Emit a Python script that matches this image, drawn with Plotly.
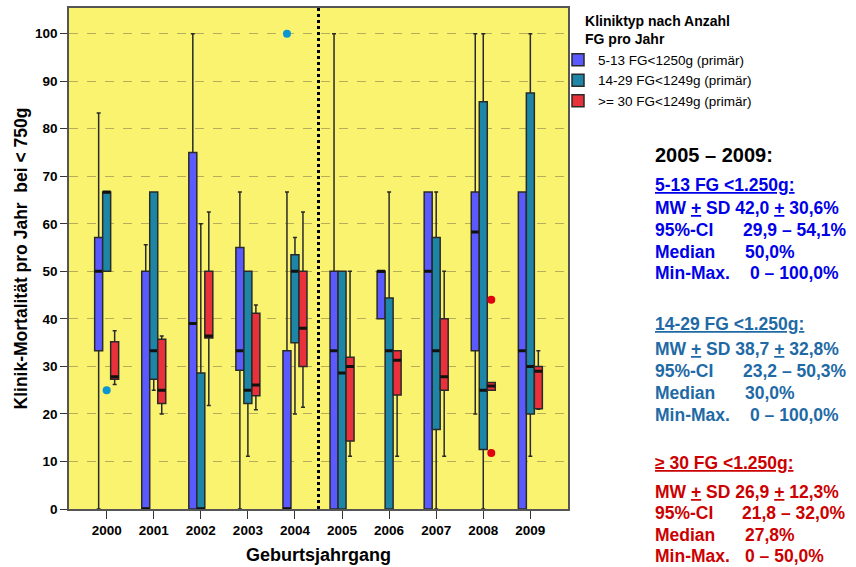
import plotly.graph_objects as go

# Geburtsjahrgänge (Kategorien der x-Achse)
years = ["2000", "2001", "2002", "2003", "2004", "2005", "2006", "2007", "2008", "2009"]

# Kliniktyp 5-13 FG<1250g: Boxplot-Kennwerte je Jahrgang (Mortalität in %)
small_lf = [0, 0, 0, 0, 0, 0, 40, 0, 20, 0]
small_q1 = [33.3, 0, 0, 29.2, 0, 0, 40, 0, 33.3, 0]
small_med = [50, 0, 39, 33.3, 0, 33.3, 50, 50, 58.3, 33.3]
small_q3 = [57.1, 50, 75, 55, 33.3, 50, 50, 66.7, 66.7, 66.7]
small_uf = [83.3, 55.6, 100, 66.7, 66.7, 100, 50, 66.7, 100, 66.7]
small_out_years = ["2004"]
small_out_vals = [100]

# Kliniktyp 14-29 FG<1249g
mid_lf = [50, 25, 0, 11.1, 20, 0, 0, 0, 0, 11.1]
mid_q1 = [50, 27.3, 0, 22.2, 35, 0, 0, 16.7, 12.5, 20]
mid_med = [66.7, 33.3, 0, 25, 50, 28.6, 33.3, 33.3, 25, 30]
mid_q3 = [66.7, 66.7, 28.6, 50, 53.5, 50, 44.4, 57.1, 85.7, 87.5]
mid_uf = [66.7, 66.7, 60, 50, 57.1, 50, 66.7, 66.7, 100, 100]
mid_out_years = ["2000"]
mid_out_vals = [25]

# Kliniktyp >= 30 FG<1249g
large_lf = [26.2, 20, 21.8, 20.9, 21.4, 11.1, 11.1, 11.1, 25, 21]
large_q1 = [27.3, 22.2, 36, 23.8, 30, 14.3, 24, 25, 25, 21.1]
large_med = [27.8, 25, 36.4, 26.1, 38, 30, 31.3, 27.8, 25.9, 29]
large_q3 = [35.2, 35.7, 50, 41.2, 50, 31.9, 33.3, 40, 26.6, 30]
large_uf = [37.5, 36.4, 62.5, 42.9, 62.5, 50, 33.3, 50, 26.6, 33.3]
large_out_years = ["2008", "2008"]
large_out_vals = [44, 11.8]

groups = [
    ("5-13 FG<1250g (primär)", "#5a5aff", "#0a96d0",
     small_lf, small_q1, small_med, small_q3, small_uf, small_out_years, small_out_vals),
    ("14-29 FG<1249g (primär)", "#1d86a6", "#0a96d0",
     mid_lf, mid_q1, mid_med, mid_q3, mid_uf, mid_out_years, mid_out_vals),
    (">= 30 FG<1249g (primär)", "#e8313a", "#e00010",
     large_lf, large_q1, large_med, large_q3, large_uf, large_out_years, large_out_vals),
]

FONT = "Arial, Liberation Sans, sans-serif"
OUTLINE = "#2a2a2a"

fig = go.Figure()
for i, (name, fill, dot, lf, q1, med, q3, uf, oy, ov) in enumerate(groups):
    grp = f"g{i}"
    fig.add_trace(go.Box(
        name=name, x=years,
        lowerfence=lf, q1=q1, median=med, q3=q3, upperfence=uf,
        offsetgroup=grp, fillcolor=fill,
        line=dict(color=OUTLINE, width=1.5), whiskerwidth=0.5,
        boxpoints=False, hoverinfo="skip",
    ))
    # thick median bar, drawn as a flat box on top of the main box
    fig.add_trace(go.Box(
        x=years, lowerfence=med, q1=med, median=med, q3=med, upperfence=med,
        offsetgroup=grp, fillcolor="rgba(0,0,0,0)",
        line=dict(color="#111111", width=3), whiskerwidth=0,
        boxpoints=False, showlegend=False, hoverinfo="skip",
    ))
    # outliers, placed at the centre of their group's box
    fig.add_trace(go.Box(
        x=oy, y=ov, offsetgroup=grp,
        fillcolor="rgba(0,0,0,0)", line=dict(width=0, color="rgba(0,0,0,0)"),
        boxpoints="all", pointpos=0, jitter=0,
        marker=dict(color=dot, size=8, line=dict(width=0)),
        showlegend=False, hoverinfo="skip",
    ))

# dotted divider between 2004 and 2005
fig.add_shape(type="line", xref="x", yref="paper", x0=4.5, x1=4.5, y0=0, y1=1,
              line=dict(color="black", width=3, dash="dot"))

# right-hand summary text (pixel positions converted to paper coordinates)
L, R, T, B = 69, 568, 8, 509.5


def px(xp):
    return (xp - L) / (R - L)


def py(yp):
    return (B - yp) / (B - T)


def ul(s):
    return f'<span style="text-decoration:underline">{s}</span>'


def note(text, xp, yp, color, size=17.5):
    fig.add_annotation(text=text, x=px(xp), y=py(yp), xref="paper", yref="paper",
                       xanchor="left", yanchor="middle", showarrow=False,
                       font=dict(family=FONT, size=size, color=color, weight="bold"))


note("2005 – 2009:", 653, 155, "black", size=20)

blocks = [
    ("#0000e8", "5-13 FG &lt;1.250g:", "42,0", "30,6%", "29,9 – 54,1%", "50,0%", "0 – 100,0%",
     [185, 208, 230, 252, 273], [741, 743, 748]),
    ("#1f6aa5", "14-29 FG &lt;1.250g:", "38,7", "32,8%", "23,2 – 50,3%", "30,0%", "0 – 100,0%",
     [324, 349, 371, 393, 415], [741, 743, 748]),
    ("#cc0000", "≥ 30 FG &lt;1.250g:", "26,9", "12,3%", "21,8 – 32,0%", "27,8%", "0 – 50,0%",
     [463, 492, 514, 536, 557], [740, 743, 743]),
]
for color, head, mw, sd, ci, median, mm, ys, xs in blocks:
    note(ul(head), 653, ys[0], color)
    note(f"MW {ul('+')} SD {mw} {ul('+')} {sd}", 653, ys[1], color)
    note("95%-CI", 653, ys[2], color)
    note(ci, xs[0], ys[2], color)
    note("Median", 653, ys[3], color)
    note(median, xs[1], ys[3], color)
    note("Min-Max.", 653, ys[4], color)
    note(mm, xs[2], ys[4], color)

fig.update_layout(
    width=856, height=567,
    margin=dict(l=L, r=856 - R, t=T, b=567 - B),
    paper_bgcolor="white", plot_bgcolor="#f9f36f",
    boxmode="group", boxgap=0.49, boxgroupgap=0,
    font=dict(family=FONT, color="black"),
    legend=dict(
        x=px(558), y=py(8), xanchor="left", yanchor="top",
        title=dict(text="Kliniktyp nach Anzahl<br>FG pro Jahr", side="top center",
                   font=dict(size=14, weight="bold", family=FONT)),
        font=dict(size=13.5, family=FONT), itemwidth=30, tracegroupgap=0,
        bgcolor="rgba(0,0,0,0)",
    ),
    xaxis=dict(
        type="category", categoryorder="array", categoryarray=years,
        range=[-0.8, 9.8], ticks="outside", ticklen=8, tickcolor="#333",
        tickfont=dict(size=13.5, weight="bold", family=FONT),
        showline=True, mirror=True, linecolor="#555", linewidth=1.5,
        showgrid=False, zeroline=False, automargin=False,
        title=dict(text="Geburtsjahrgang", standoff=11,
                   font=dict(size=18, weight="bold", family=FONT)),
    ),
    yaxis=dict(
        range=[0, 105.4], dtick=10, tick0=0, ticks="outside", ticklen=7, tickcolor="#333",
        tickfont=dict(size=13.5, weight="bold", family=FONT),
        showline=True, mirror=True, linecolor="#555", linewidth=1.5,
        showgrid=True, gridcolor="#b5ad5a", griddash="dash", gridwidth=1,
        zeroline=False, automargin=False,
        title=dict(text="Klinik-Mortalität pro Jahr  bei &lt; 750g", standoff=3,
                   font=dict(size=17.5, weight="bold", family=FONT)),
    ),
)

fig.write_html("out.html")
